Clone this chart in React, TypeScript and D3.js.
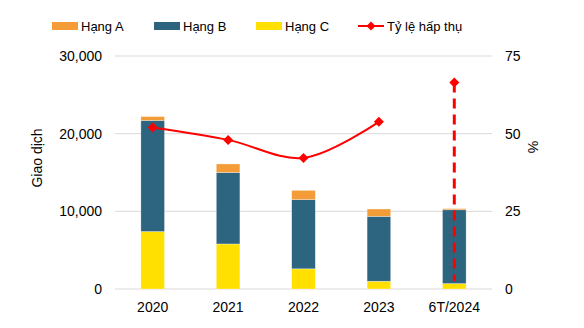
import React from "react";
import * as d3 from "d3";

const categories = ["2020", "2021", "2022", "2023", "6T/2024"];
const hangA = [500, 1100, 1200, 950, 150];
const hangB = [14300, 9200, 8900, 8350, 9500];
const hangC = [7400, 5800, 2600, 1000, 700];
const tyLe = [52.0, 48.0, 42.2, 53.8, 66.5];
const dashBottom = 2.5;
const leftTicks = [0, 10000, 20000, 30000];
const rightTicks = [0, 25, 50, 75];

const W = 584, H = 328;
const M = { left: 115, right: 92, top: 56, bottom: 39 };
const COLORS = { A: "#F39C38", B: "#2D6480", C: "#FFE000", line: "#FF0000" };
const FONT = "Liberation Sans, Arial, sans-serif";

export default function App() {
  const x = d3.scaleBand().domain(categories).range([M.left, W - M.right]).paddingInner(0.687).paddingOuter(0.3435);
  const y = d3.scaleLinear().domain([0, 30000]).range([H - M.bottom, M.top]);
  const y2 = d3.scaleLinear().domain([0, 75]).range([H - M.bottom, M.top]);
  const fmt = d3.format(",");

  const stackData = categories.map((c, i) => ({ c, C: hangC[i], B: hangB[i], A: hangA[i] }));
  const series = d3.stack<any>().keys(["C", "B", "A"])(stackData as any);
  const cx = (c: string) => (x(c) as number) + x.bandwidth() / 2;

  const solidIdx = [0, 1, 2, 3];
  const line = d3
    .line<number>()
    .x((i) => cx(categories[i]))
    .y((i) => y2(tyLe[i]))
    .curve(d3.curveCatmullRom.alpha(0.5));

  const diamond = (px: number, py: number, r = 5) =>
    `M${px},${py - r}L${px + r},${py}L${px},${py + r}L${px - r},${py}Z`;

  const legend = [
    { key: "A", label: "Hạng A", x: 52 },
    { key: "B", label: "Hạng B", x: 154 },
    { key: "C", label: "Hạng C", x: 256 },
  ];
  const last = categories.length - 1;

  return (
    <svg width={W} height={H} style={{ position: "absolute", left: 0, top: 0 }} fontFamily={FONT}>
      {/* gridlines */}
      {leftTicks.map((t) => (
        <line key={t} x1={M.left} x2={W - M.right} y1={y(t)} y2={y(t)} stroke="#D9D9D9" strokeWidth={1} />
      ))}
      {/* left ticks */}
      {leftTicks.map((t) => (
        <text key={t} x={102} y={y(t)} dy="0.35em" textAnchor="end" fontSize={14} fill="#000">
          {fmt(t)}
        </text>
      ))}
      {/* right ticks */}
      {rightTicks.map((t) => (
        <text key={t} x={505} y={y2(t)} dy="0.35em" textAnchor="start" fontSize={14} fill="#000">
          {t}
        </text>
      ))}
      <text transform={`translate(37,158) rotate(-90)`} textAnchor="middle" dy="0.35em" fontSize={14}>
        Giao dịch
      </text>
      <text transform={`translate(533,147) rotate(90)`} textAnchor="middle" dy="0.35em" fontSize={14}>
        %
      </text>
      {/* bars */}
      {series.map((s) => (
        <g key={s.key} fill={(COLORS as any)[s.key]}>
          {s.map((d: any, i: number) => (
            <rect
              key={i}
              x={x(categories[i])}
              width={x.bandwidth()}
              y={y(d[1])}
              height={y(d[0]) - y(d[1])}
              stroke="#ffffff"
              strokeOpacity={0.5}
              strokeWidth={0.6}
            />
          ))}
        </g>
      ))}
      {/* x labels */}
      {categories.map((c) => (
        <text key={c} x={cx(c)} y={312} textAnchor="middle" fontSize={14}>
          {c}
        </text>
      ))}
      {/* line */}
      <path d={line(solidIdx) || ""} fill="none" stroke={COLORS.line} strokeWidth={2} />
      <line
        x1={cx(categories[last])}
        x2={cx(categories[last])}
        y1={y2(tyLe[last])}
        y2={y2(dashBottom)}
        stroke={COLORS.line}
        strokeWidth={3}
        strokeDasharray="10,6"
      />
      {tyLe.map((v, i) => (
        <path key={i} d={diamond(cx(categories[i]), y2(v))} fill={COLORS.line} />
      ))}
      {/* legend */}
      {legend.map((l) => (
        <g key={l.key}>
          <rect x={l.x} y={22} width={26} height={8} fill={(COLORS as any)[l.key]} />
          <text x={l.x + 29} y={26} dy="0.35em" fontSize={13}>
            {l.label}
          </text>
        </g>
      ))}
      <line x1={358} x2={384} y1={26} y2={26} stroke={COLORS.line} strokeWidth={2} />
      <path d={diamond(371, 26, 4.5)} fill={COLORS.line} />
      <text x={387} y={26} dy="0.35em" fontSize={13}>
        Tỷ lệ hấp thụ
      </text>
    </svg>
  );
}
